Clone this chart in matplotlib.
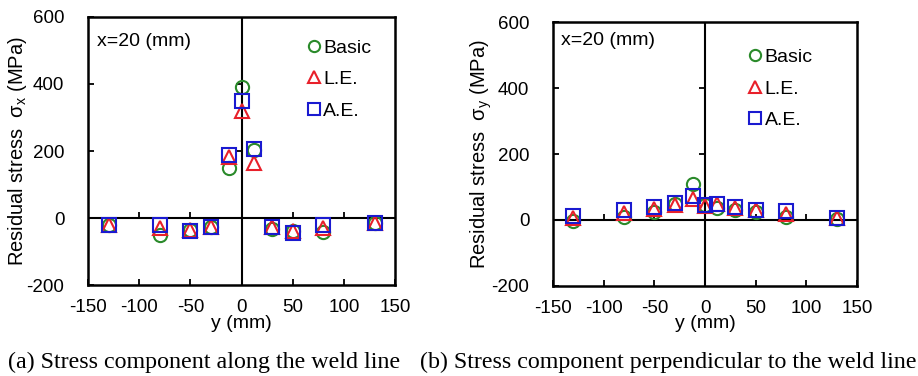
import matplotlib
matplotlib.use("Agg")
import matplotlib.pyplot as plt
import numpy as np

# ---- data ----
y_pos = [-130, -80, -50, -30, -12, 0, 12, 30, 50, 80, 130]

sx_basic = [-20, -50, -35, -28, 148, 390, 203, -33, -40, -42, -16]
sx_le    = [-22, -29, -36, -28, 183, 320, 165, -28, -40, -30, -16]
sx_ae    = [-20, -22, -38, -28, 188, 348, 205, -28, -45, -21, -16]

sy_basic = [-2, 10, 25, 48, 108, 44, 37, 29, 25, 10, 4]
sy_le    = [5, 22, 32, 45, 63, 43, 47, 37, 30, 18, 6]
sy_ae    = [12, 29, 39, 52, 73, 45, 49, 39, 30, 27, 6]

series_names = ["Basic", "L.E.", "A.E."]
x_ticks = [-150, -100, -50, 0, 50, 100, 150]
y_ticks = [-200, 0, 200, 400, 600]
annot = "x=20 (mm)"
captions = ["(a) Stress component along the weld line",
            "(b) Stress component perpendicular to the weld line"]
ylabels = [r"Residual stress  $\sigma_x$ (MPa)", r"Residual stress  $\sigma_y$ (MPa)"]

colors = ["#2a8a2a", "#e8202a", "#1a1ad0"]
markers = ["o", "^", "s"]

plt.rcParams['font.family'] = ['Liberation Sans', 'DejaVu Sans']
plt.rcParams['mathtext.fontset'] = 'custom'
plt.rcParams['mathtext.rm'] = 'Liberation Sans'
plt.rcParams['mathtext.it'] = 'Liberation Sans'
plt.rcParams['axes.unicode_minus'] = False

fig = plt.figure(figsize=(9.18, 3.76), dpi=100)
ax1 = fig.add_axes([0.0959, 0.242, 0.3344, 0.7128])
ax2 = fig.add_axes([0.6024, 0.2394, 0.3312, 0.702])

panels = [
    (ax1, [sx_basic, sx_le, sx_ae], (0.716, 0.918), (0.03, 0.91)),
    (ax2, [sy_basic, sy_le, sy_ae], (0.645, 0.90), (0.026, 0.93)),
]

for i, (ax, data, leg_anchor, ann_pos) in enumerate(panels):
    for vals, name, c, m in zip(data, series_names, colors, markers):
        ax.plot(y_pos, vals, linestyle='none', marker=m, markersize=9.5,
                markerfacecolor='none', markeredgecolor=c, markeredgewidth=1.5,
                label=name)
    ax.set_xlim(-150, 150)
    ax.set_ylim(-200, 600)
    ax.set_xticks(x_ticks)
    ax.set_yticks(y_ticks)
    ax.tick_params(direction='in', length=4, width=1.3, labelsize=13.5)
    ax.tick_params(axis='x', pad=10)
    ax.tick_params(axis='y', pad=17)
    for sp in ax.spines.values():
        sp.set_linewidth(1.8)
    ax.axhline(0, color='black', lw=1.5, zorder=1)
    ax.axvline(0, color='black', lw=1.5, zorder=1)
    # ticks on the zero lines
    sx = ax.secondary_xaxis(0.25)
    sx.set_xticks([-100, -50, 50, 100], labels=[])
    sx.tick_params(direction='in', length=4, width=1.3,
                   labelbottom=False, labeltop=False)
    sx.spines['bottom'].set_visible(False)
    sx.spines['top'].set_visible(False)
    sy = ax.secondary_yaxis(0.5)
    sy.set_yticks([200, 400], labels=[])
    sy.tick_params(direction='in', length=4, width=1.3,
                   labelleft=False, labelright=False)
    sy.spines['left'].set_visible(False)
    sy.spines['right'].set_visible(False)

    ax.set_xlabel("y (mm)", fontsize=14, labelpad=-1)
    ax.set_ylabel(ylabels[i], fontsize=14.5, labelpad=-2)
    ax.text(ann_pos[0], ann_pos[1], annot, transform=ax.transAxes,
            fontsize=14, ha='left', va='center')
    leg = ax.legend(loc='upper left', bbox_to_anchor=leg_anchor, frameon=False,
                    fontsize=14, handlelength=0.6, handletextpad=0.2,
                    labelspacing=0.72, borderpad=0, borderaxespad=0,
                    markerscale=0.85)

fig.text(0.2222, 1 - 362 / 376, captions[0], fontsize=17.3, ha='center',
         va='center', family=['Liberation Serif', 'DejaVu Serif'])
fig.text(0.7282, 1 - 362 / 376, captions[1], fontsize=17.3, ha='center',
         va='center', family=['Liberation Serif', 'DejaVu Serif'])

fig.savefig("out.png", dpi=100)
